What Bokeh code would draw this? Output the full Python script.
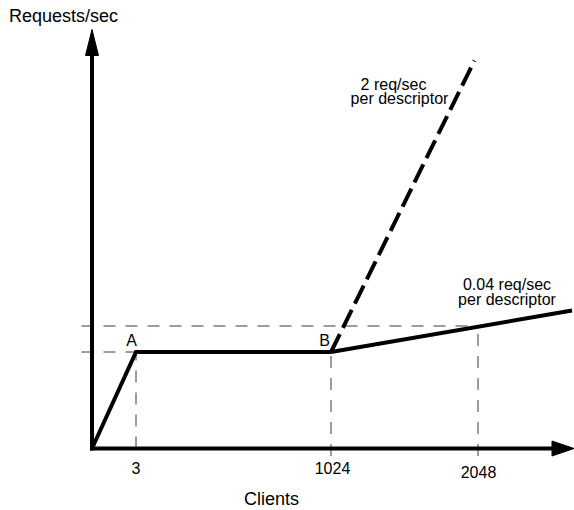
from bokeh.plotting import figure
from bokeh.models import Range1d
from bokeh.core.properties import value
from bokeh.embed import file_html
from bokeh.resources import INLINE

# ---- schematic data (diagram units, not to scale) ----
client_labels = ["3", "1024", "2048"]
client_pos = [44.0, 239.0, 386.0]           # schematic x of 3, 1024, 2048 clients
point_names = ["A", "B"]
plateau_rate = 96.5                         # requests/sec level from A to B
rate_at_2048 = 122.5                        # level of the 0.04 line at 2048 clients

knee_x = [0.0, 44.0, 239.0]                 # origin -> A -> B
knee_y = [0.0, 96.5, 96.5]
slow_x = [239.0, 480.0]                     # 0.04 req/sec per descriptor
slow_y = [96.5, 138.0]
fast_x = [239.0, 382.5]                     # 2 req/sec per descriptor
fast_y = [96.5, 388.0]

x_axis_end = 482.0
y_axis_end = 419.0

# ---- figure ----
W, H = 574, 510
X0, Y0 = -91.5, -62.0
p = figure(width=W, height=H, output_backend="svg", toolbar_location=None,
           x_range=Range1d(X0, X0 + W), y_range=Range1d(Y0, Y0 + H),
           x_axis_location=None, y_axis_location=None, min_border=0)
p.grid.visible = False
p.outline_line_color = None
p.background_fill_color = "white"
p.border_fill_color = "white"

FONT = value("Liberation Sans")
TDY = 6.5   # lift texts so their baselines land where intended
thin = dict(line_color="#3a3a3a", line_width=1, line_dash="12 10")

# reference (guide) lines
guide_left = -10.5
below = -7.5
p.segment(x0=[guide_left, guide_left], y0=[plateau_rate, rate_at_2048],
          x1=[client_pos[0], client_pos[2]], y1=[plateau_rate, rate_at_2048], **thin)
p.segment(x0=client_pos, y0=[0.0, below, below],
          x1=client_pos, y1=[plateau_rate, plateau_rate, rate_at_2048], **thin)

# curves
p.line(knee_x, knee_y, line_color="black", line_width=4, line_join="miter")
p.line(slow_x, slow_y, line_color="black", line_width=4)
p.line(fast_x, fast_y, line_color="black", line_width=4, line_dash="20 7")

# axes with arrow heads
hx_len, hx_half = 22.0, 7.5
hy_len, hy_half = 26.0, 6.5
p.segment(x0=[-2.0, 0.0], y0=[0.0, -2.0],
          x1=[x_axis_end - hx_len + 2, 0.0], y1=[0.0, y_axis_end - hy_len + 2],
          line_color="black", line_width=4)
p.patches(
    xs=[[x_axis_end, x_axis_end - hx_len, x_axis_end - hx_len],
        [0.0, hy_half, -hy_half]],
    ys=[[0.0, hx_half, -hx_half],
        [y_axis_end, y_axis_end - hy_len, y_axis_end - hy_len]],
    fill_color="black", line_color="black", line_width=1)

# tick labels
p.text(x=[client_pos[0], client_pos[1] + 1.5, client_pos[2] + 0.5],
       y=[-26.0 + TDY, -26.0 + TDY, -30.0 + TDY], text=client_labels,
       text_font=FONT, text_font_size="16px", text_align="center",
       text_baseline="alphabetic", text_color="black")

# point labels
p.text(x=[knee_x[1] - 4.5, knee_x[2] - 6.5], y=[101.5 + TDY, 101.5 + TDY],
       text=point_names, text_font=FONT, text_font_size="16px",
       text_align="center", text_baseline="alphabetic", text_color="black")

# slope annotations
p.text(x=[301.5, 307.5, 415.0, 415.0],
       y=[357.3 + TDY, 343.7 + TDY, 158.0 + TDY, 143.0 + TDY],
       text=["2 req/sec", "per descriptor", "0.04 req/sec", "per descriptor"],
       text_font=FONT, text_font_size="16px", text_align="center",
       text_baseline="alphabetic", text_color="black")

# axis titles
p.text(x=[-83.0], y=[426.3 + TDY], text=["Requests/sec"], text_font=FONT,
       text_font_size="18px", text_align="left", text_baseline="alphabetic",
       text_color="black")
p.text(x=[179.5], y=[-57.0 + TDY], text=["Clients"], text_font=FONT,
       text_font_size="18px", text_align="center", text_baseline="alphabetic",
       text_color="black")

open("out.html", "w").write(file_html(p, INLINE))
